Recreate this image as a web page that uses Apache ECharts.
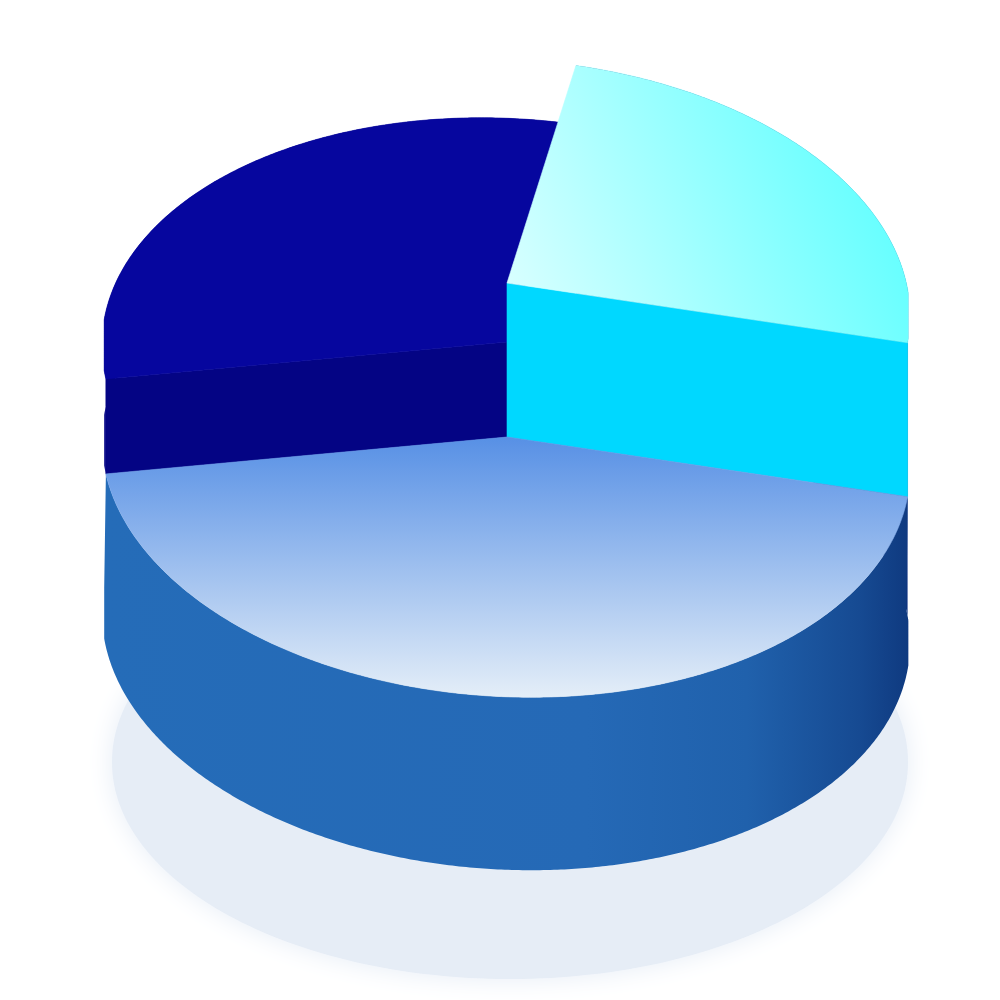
<!DOCTYPE html>
<html><head><meta charset="utf-8">
<style>html,body{margin:0;padding:0;background:#fff}#c{width:1000px;height:1000px}</style>
<script src="https://cdn.jsdelivr.net/npm/echarts@6/dist/echarts.min.js"></script>
</head><body><div id="c"></div>
<script>
// slice data, clockwise from the right-hand edge of the front slice
const categories = ['Front', 'Back', 'Raised'];
const sliceValues = [46, 30, 24];

const chart = echarts.init(document.getElementById('c'), null, {renderer: 'canvas'});
const G = echarts.graphic.LinearGradient;
const startAngle = 4.4, tilt = 3.3 * Math.PI / 180;
const A = 404.5, B = 241.5, centre = [506, 455], apex = [507, 437], depth = 173;
const minX = 104.2, maxX = 908.2, flare = 14;
const total = sliceValues.reduce((a, b) => a + b, 0);

const looks = [
  {lift: 0, down: depth, flare, cut: null, outer: new G(104, 0, 908, 0, [
      {offset: 0, color: '#256cb8'}, {offset: .6, color: '#2569b6'}, {offset: .8, color: '#2061ac'},
      {offset: .94, color: '#164a92'}, {offset: 1, color: '#0f3a80'}], true),
   face: new G(0, 437, 0, 697, [{offset: 0, color: '#5790e5'}, {offset: 1, color: '#e4eef8'}], true)},
  {lift: 95, down: 0, flare: 0, cut: '#040484', cutEnd: 'start', outer: '#040484', face: '#06069e'},
  {lift: 154, down: depth, flare: 0, cut: '#00d8ff', cutEnd: 'end', outer: '#0c2f80',
   face: new G(507, 283, 850, 130, [{offset: 0, color: '#d8ffff'}, {offset: 1, color: '#66ffff'}], true)}
];
const drawOrder = [1, 2, 0];

function rim(deg, dy) {
  const u = deg * Math.PI / 180, p = A * Math.cos(u), q = B * Math.sin(u);
  const x = centre[0] + p * Math.cos(tilt) - q * Math.sin(tilt);
  return [Math.min(maxX, Math.max(minX, x)),
          centre[1] + p * Math.sin(tilt) + q * Math.cos(tilt) + dy];
}
function arc(a0, a1, dy) {
  const pts = [], n = Math.ceil(Math.abs(a1 - a0) * 2);
  for (let i = 0; i <= n; i++) pts.push(rim(a0 + (a1 - a0) * i / n, dy));
  return pts;
}
function renderSlice(params, api) {
  const i = api.value(0), look = looks[i];
  let a0 = startAngle;
  for (let k = 0; k < i; k++) a0 += sliceValues[k] / total * 360;
  const a1 = a0 + api.value(1) / total * 360, up = -look.lift;
  const kids = [];
  const poly = (points, fill, edge) => kids.push({type: 'polygon', shape: {points},
    style: {fill, stroke: edge ? fill : null, lineWidth: edge ? .6 : 0}});
  // outer wall
  poly(arc(a0, a1, up).concat(arc(a1 + look.flare, a0 - look.flare, look.down)), look.outer, false);
  // radial cut wall
  if (look.cut) {
    const e = rim(look.cutEnd === 'start' ? a0 : a1, 0);
    poly([[apex[0], apex[1] + up], [e[0], e[1] + up], e, apex], look.cut, true);
  }
  // top face
  poly([[apex[0], apex[1] + up]].concat(arc(a0, a1, up)), look.face, true);
  return {type: 'group', children: kids};
}
function renderFloor() {
  return {type: 'ellipse', shape: {cx: 510, cy: 762, rx: 398, ry: 217},
    style: {fill: '#e6edf6', shadowColor: '#e6edf6', shadowBlur: 26}};
}
chart.setOption({
  animation: false,
  series: [
    {type: 'custom', coordinateSystem: 'none', silent: true, renderItem: renderFloor, data: [[0]]},
    {type: 'custom', coordinateSystem: 'none', silent: true, renderItem: renderSlice,
     encode: {itemName: 2},
     data: drawOrder.map(i => [i, sliceValues[i], categories[i]])}
  ]
});
</script></body></html>
